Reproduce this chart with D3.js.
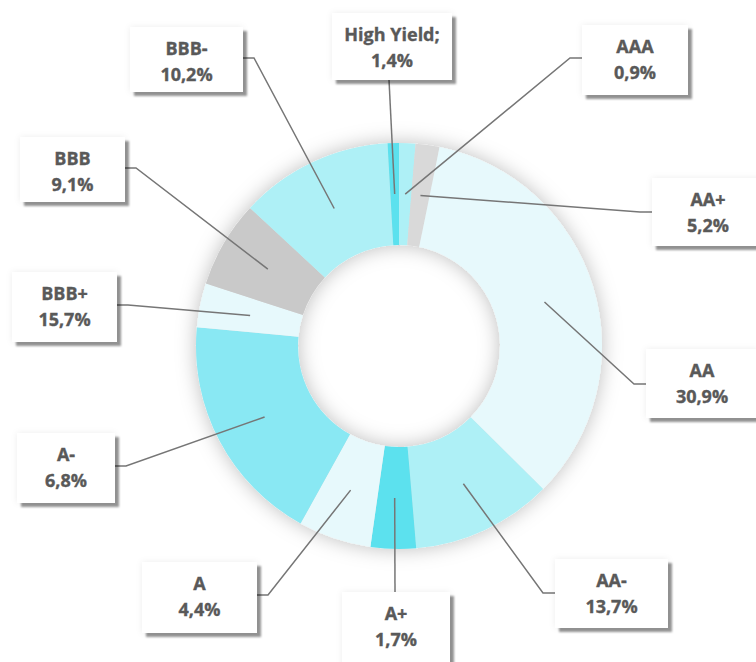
<!DOCTYPE html>
<html>
<head>
<meta charset="utf-8">
<script src="https://cdn.jsdelivr.net/npm/d3@7"></script>
<style>
  body { margin: 0; background: #fff; }
  svg { display: block; }
  .lbl { font-family: "Open Sans", sans-serif; font-weight: 700; font-size: 18px; fill: #595959; stroke: #595959; stroke-width: 0.35px; }
</style>
</head>
<body>
<svg id="chart"></svg>
<script>
// rating buckets, clockwise from 12 o'clock
const categories = ['AAA', 'AA+', 'AA', 'AA-', 'A+', 'A', 'A-', 'BBB+', 'BBB', 'BBB-', 'High Yield'];
// slice sizes as drawn in the picture (%)
const shares = [1.3, 1.9, 34.2, 11.2, 3.6, 5.8, 18.4, 3.5, 6.9, 12.2, 0.9];
// percentages printed in the label boxes
const labelPct = [0.9, 5.2, 30.9, 13.7, 1.7, 4.4, 6.8, 15.7, 9.1, 10.2, 1.4];

const colors = ['#aef0f6', '#d9d9d9', '#e7f9fc', '#aef0f6', '#5ce1ee', '#e7f9fc',
                '#89e8f3', '#e7f9fc', '#c9c9c9', '#aef0f6', '#5ce1ee'];

// label boxes placed by hand in the original
const boxes = {
  'AAA':        { x: 582, y: 25,  w: 106, h: 70, side: 'left',   at: 33 },
  'AA+':        { x: 652, y: 178, w: 112, h: 68, side: 'left',   at: 34 },
  'AA':         { x: 646, y: 349, w: 112, h: 69, side: 'left',   at: 35 },
  'AA-':        { x: 555, y: 559, w: 113, h: 69, side: 'left',   at: 34 },
  'A+':         { x: 342, y: 592, w: 108, h: 76, side: 'top',    at: 53 },
  'A':          { x: 142, y: 562, w: 115, h: 71, side: 'right',  at: 33 },
  'A-':         { x: 17,  y: 433, w: 98,  h: 70, side: 'right',  at: 33 },
  'BBB+':       { x: 12,  y: 272, w: 105, h: 70, side: 'right',  at: 33 },
  'BBB':        { x: 20,  y: 137, w: 105, h: 65, side: 'right',  at: 31 },
  'BBB-':       { x: 130, y: 27,  w: 113, h: 65, side: 'right',  at: 31 },
  'High Yield': { x: 332, y: 13,  w: 120, h: 67, side: 'bottom', at: 57 }
};

const width = 756, height = 662;
const cx = 399, cy = 346;
const rOuter = 203, rInner = 101;

const svg = d3.select('#chart').attr('width', width).attr('height', height);

const defs = svg.append('defs');

const ringShadow = defs.append('filter').attr('id', 'ringShadow')
  .attr('x', '-25%').attr('y', '-25%').attr('width', '150%').attr('height', '150%');
ringShadow.append('feGaussianBlur').attr('in', 'SourceAlpha').attr('stdDeviation', 10).attr('result', 'b');
ringShadow.append('feFlood').attr('flood-color', '#000').attr('flood-opacity', 0.26);
ringShadow.append('feComposite').attr('in2', 'b').attr('operator', 'in').attr('result', 's');
const rm = ringShadow.append('feMerge');
rm.append('feMergeNode').attr('in', 's');
rm.append('feMergeNode').attr('in', 'SourceGraphic');

const boxShadow = defs.append('filter').attr('id', 'boxShadow')
  .attr('x', '-20%').attr('y', '-20%').attr('width', '150%').attr('height', '150%');
boxShadow.append('feGaussianBlur').attr('in', 'SourceAlpha').attr('stdDeviation', 3).attr('result', 'halo');
boxShadow.append('feFlood').attr('flood-color', '#000').attr('flood-opacity', 0.07);
boxShadow.append('feComposite').attr('in2', 'halo').attr('operator', 'in').attr('result', 'haloC');
boxShadow.append('feGaussianBlur').attr('in', 'SourceAlpha').attr('stdDeviation', 1.2).attr('result', 'b2');
boxShadow.append('feOffset').attr('in', 'b2').attr('dx', 4).attr('dy', 4).attr('result', 'o2');
boxShadow.append('feFlood').attr('flood-color', '#000').attr('flood-opacity', 0.42);
boxShadow.append('feComposite').attr('in2', 'o2').attr('operator', 'in').attr('result', 'dropC');
const bm = boxShadow.append('feMerge');
bm.append('feMergeNode').attr('in', 'haloC');
bm.append('feMergeNode').attr('in', 'dropC');
bm.append('feMergeNode').attr('in', 'SourceGraphic');

const pie = d3.pie().sort(null).value(d => d.value).startAngle(0).endAngle(2 * Math.PI);
const arc = d3.arc().innerRadius(rInner).outerRadius(rOuter);

const data = categories.map((c, i) => ({ name: c, value: shares[i], pct: labelPct[i], color: colors[i] }));
const arcs = pie(data);

const g = svg.append('g').attr('transform', `translate(${cx},${cy})`);

g.append('g')
  .attr('filter', 'url(#ringShadow)')
  .selectAll('path')
  .data(arcs)
  .enter().append('path')
  .attr('d', arc)
  .attr('fill', d => d.data.color);

// leader lines: slice centroid -> elbow -> box edge
const leaderPoints = d => {
  const b = boxes[d.data.name];
  const c = arc.centroid(d);
  const p0 = [c[0] + cx, c[1] + cy];
  if (b.side === 'left') return [p0, [b.x - 12, b.y + b.at], [b.x, b.y + b.at]];
  if (b.side === 'right') return [p0, [b.x + b.w + 11, b.y + b.at], [b.x + b.w, b.y + b.at]];
  if (b.side === 'top') return [p0, [b.x + b.at, b.y]];
  return [p0, [b.x + b.at, b.y + b.h]];
};

svg.append('g')
  .selectAll('path')
  .data(arcs)
  .enter().append('path')
  .attr('d', d => d3.line()(leaderPoints(d)))
  .attr('fill', 'none')
  .attr('stroke', '#767676')
  .attr('stroke-width', 1.5);

const lab = svg.append('g')
  .selectAll('g')
  .data(arcs)
  .enter().append('g')
  .attr('transform', d => `translate(${boxes[d.data.name].x},${boxes[d.data.name].y})`);

lab.append('rect')
  .attr('width', d => boxes[d.data.name].w)
  .attr('height', d => boxes[d.data.name].h)
  .attr('fill', '#fff')
  .attr('filter', 'url(#boxShadow)');

const fmt = v => v.toFixed(1).replace('.', ',') + '%';

lab.append('text')
  .attr('class', 'lbl')
  .attr('text-anchor', 'middle')
  .attr('x', d => boxes[d.data.name].w / 2)
  .attr('y', 28)
  .text(d => d.data.name === 'High Yield' ? d.data.name + ';' : d.data.name);

lab.append('text')
  .attr('class', 'lbl')
  .attr('text-anchor', 'middle')
  .attr('x', d => boxes[d.data.name].w / 2)
  .attr('y', 54)
  .text(d => fmt(d.data.pct));
</script>
</body>
</html>
